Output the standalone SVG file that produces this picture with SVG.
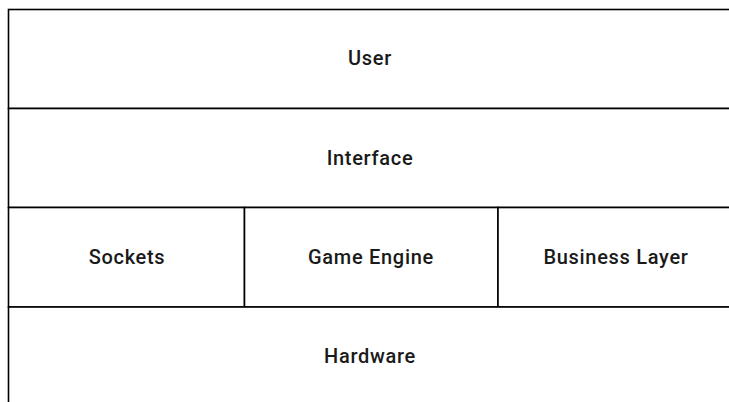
<svg xmlns="http://www.w3.org/2000/svg" width="729" height="402" viewBox="0 0 729 402">
<style>
.box{fill:#fff;stroke:#000;stroke-width:1.6}
.lbl{font-family:Roboto,"Liberation Sans",sans-serif;font-weight:500;font-size:20px;letter-spacing:0.7px;fill:#1a1a1a;text-anchor:middle;dominant-baseline:central}
</style>
<rect x="0" y="0" width="729" height="402" fill="#fff"/>
<g id="user"><rect class="box" x="8.5" y="9.5" width="800" height="99"/><text class="lbl" x="370" y="58">User</text></g>
<g id="interface"><rect class="box" x="8.5" y="108.5" width="800" height="99"/><text class="lbl" x="370" y="158">Interface</text></g>
<g id="sockets"><rect class="box" x="8.5" y="207.5" width="236" height="99.5"/><text class="lbl" x="127" y="257">Sockets</text></g>
<g id="game-engine"><rect class="box" x="244.5" y="207.5" width="253.5" height="99.5"/><text class="lbl" x="371" y="257">Game Engine</text></g>
<g id="business-layer"><rect class="box" x="498" y="207.5" width="300" height="99.5"/><text class="lbl" x="616" y="257">Business Layer</text></g>
<g id="hardware"><rect class="box" x="8.5" y="307" width="800" height="130"/><text class="lbl" x="370" y="356">Hardware</text></g>
<g id="connectors"></g>
</svg>
